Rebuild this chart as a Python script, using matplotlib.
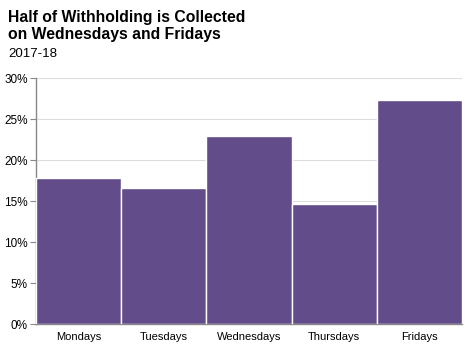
import matplotlib
matplotlib.use("Agg")
import matplotlib.pyplot as plt
from matplotlib.ticker import PercentFormatter

plt.rcParams["font.family"] = ["Liberation Sans", "DejaVu Sans"]

# data
days = ["Mondays", "Tuesdays", "Wednesdays", "Thursdays", "Fridays"]
share = [17.8, 16.6, 22.9, 14.6, 27.3]
yticks = [0, 5, 10, 15, 20, 25, 30]

fig = plt.figure(figsize=(4.69, 3.52), dpi=100)
ax = fig.add_axes([0.0768, 0.0795, 0.9082, 0.6985])

ax.bar(range(len(days)), share, width=1.0, color="#624C8A",
       edgecolor="white", linewidth=1.0, zorder=3)

ax.set_xlim(-0.5, len(days) - 0.5)
ax.set_ylim(0, 30)
ax.set_yticks(yticks)
ax.yaxis.set_major_formatter(PercentFormatter(decimals=0))
ax.set_xticks(range(len(days)))
ax.set_xticklabels(days, fontsize=8)
ax.tick_params(axis="x", length=0, pad=6)
ax.tick_params(axis="y", labelsize=8.5, length=4, color="#888888", pad=2)
ax.grid(axis="y", color="#dddddd", linewidth=0.8, zorder=0)

for side in ["top", "right"]:
    ax.spines[side].set_visible(False)
for side in ["left", "bottom"]:
    ax.spines[side].set_color("#888888")
    ax.spines[side].set_linewidth(1.0)

fig.text(0.017, 0.972, "Half of Withholding is Collected\non Wednesdays and Fridays",
         fontsize=11.3, fontweight="bold", va="top", linespacing=1.2)
fig.text(0.017, 0.865, "2017-18", fontsize=9.5, va="top")

fig.savefig("out.png", dpi=100)
